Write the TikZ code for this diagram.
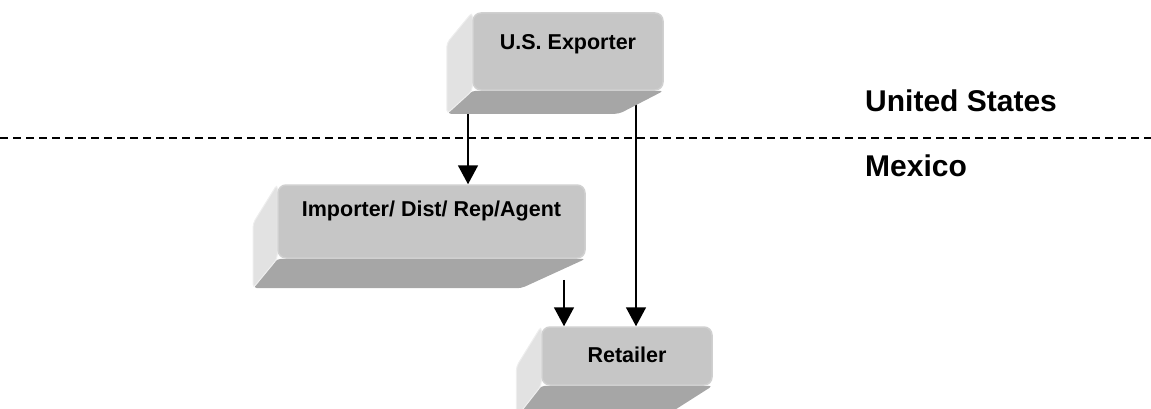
\documentclass[tikz,border=0pt]{standalone}
\usepackage{fontspec}
\setmainfont{Liberation Sans}
\usetikzlibrary{arrows.meta, calc, backgrounds}
\definecolor{facegray}{HTML}{C6C6C6}
\definecolor{facerim}{HTML}{D0D0D0}
\definecolor{sidegray}{HTML}{E2E2E2}
\definecolor{sideedge}{HTML}{EEEEEE}
\definecolor{basegray}{HTML}{A6A6A6}

\begin{document}
\begin{tikzpicture}[x=1pt, y=1pt,
    % ── Box styles ───────────────────────────────────────────────────────
    frontface/.style={
        draw=facerim, fill=facegray, rounded corners=8pt,
        line width=1.5pt, inner sep=0pt, text height=15pt,
        font=\fontsize{21.5}{25}\selectfont\bfseries
    },
    sideface/.style={
        fill=sidegray, draw=sideedge, line width=1pt,
        rounded corners=4pt
    },
    baseface/.style={
        fill=basegray, rounded corners=4pt
    },
    % ── Country labels ───────────────────────────────────────────────────
    country/.style={
        anchor=base west, inner sep=0pt,
        font=\fontsize{30}{36}\selectfont\bfseries
    },
    % ── Lines ────────────────────────────────────────────────────────────
    arr/.style={
        -{Triangle[length=19pt, width=20pt]},
        line width=1.7pt
    },
    borderline/.style={
        dash pattern=on 8pt off 5pt, line width=2pt
    }
]
\useasboundingbox (0,0) rectangle (1151,408);

% ═══════════════════════════════════════════════════════════════════════════
% Boxes
% ═══════════════════════════════════════════════════════════════════════════
\node[frontface, minimum width=190pt, minimum height=77pt,
      text depth=18pt] (exp) at (568,356.5) {U.S. Exporter};
\node[frontface, minimum width=307pt, minimum height=73pt,
      text depth=25pt] (imp) at (431.5,186.5) {Importer/ Dist/ Rep/Agent};
\node[frontface, minimum width=170pt, minimum height=58pt,
      text depth=1.6pt] (ret) at (627,52) {Retailer};

% ═══════════════════════════════════════════════════════════════════════════
% Border
% ═══════════════════════════════════════════════════════════════════════════
\node[country] (us) at (865,296.5) {United States};
\node[country] (mx) at (865,231.5) {Mexico};
\draw[borderline] (0,270) -- (1151,270);

% ═══════════════════════════════════════════════════════════════════════════
% Arrows and box depth
% ═══════════════════════════════════════════════════════════════════════════
\begin{scope}[on background layer]
    \draw[arr] ([xshift=-100]exp.south) -- ([xshift=-100]exp.south |- imp.north);
    \draw[arr] ([xshift=68]exp.south) -- ([xshift=68]exp.south |- ret.north);
    \draw[arr] ([xshift=132.5,yshift=-21]imp.south)
        -- ([xshift=132.5]imp.south |- ret.north);

    % depth, drawn toward each box's vanishing point
    \foreach \b/\vx/\vy/\f in {exp/218/87/0.10, imp/91/-77/0.13, ret/370/-196/0.145} {
        \coordinate (\b-bnw) at ($(\b.north west)!\f!(\vx,\vy)$);
        \coordinate (\b-bsw) at ($(\b.south west)!\f!(\vx,\vy)$);
        \coordinate (\b-bse) at ($(\b.south east)!\f!(\vx,\vy)$);
        \fill[baseface] (\b.south west) -- (\b.south east) -- (\b-bse)
            -- (\b-bsw) -- cycle;
        \filldraw[sideface] (\b.north west) -- (\b.south west) -- (\b-bsw)
            -- (\b-bnw) -- cycle;
    }
\end{scope}

\end{tikzpicture}
\end{document}
